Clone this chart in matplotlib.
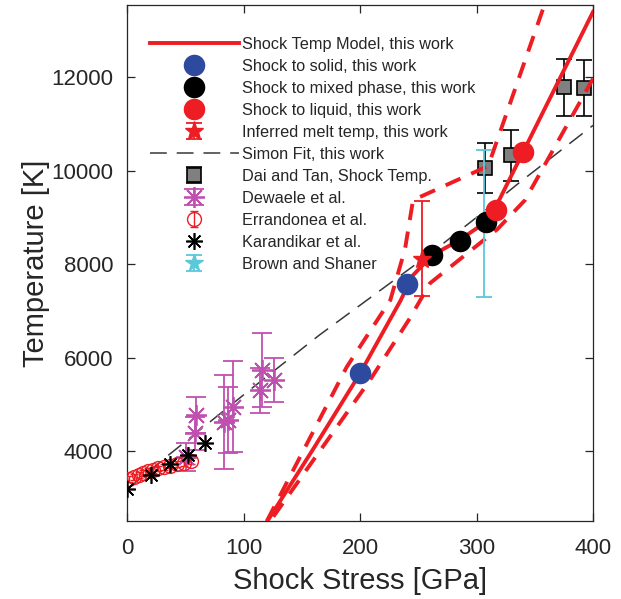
import matplotlib
matplotlib.use('Agg')
import matplotlib.pyplot as plt
from matplotlib.ticker import FixedLocator
from matplotlib.lines import Line2D

plt.rcParams['font.family'] = ['Liberation Sans', 'DejaVu Sans']

# ---------------- data ----------------
model_P = [121, 160, 200, 235, 245, 262, 285, 308, 316, 340, 400]
model_T = [2520, 4050, 5660, 7230, 7750, 8190, 8510, 8900, 9200, 10400, 13400]

upper_P = [120, 188.6, 226, 238.6, 245.5, 310, 359]
upper_T = [2500, 5800, 7230, 8320, 9370, 10100, 13600]

lower_P = [125.6, 208.6, 243, 260, 318, 341.6, 400]
lower_T = [2595, 5520, 6850, 7590, 8750, 9370, 11970]

solid_P = [200, 240]
solid_T = [5660, 7570]

mixed_P = [262, 286, 308]
mixed_T = [8190, 8490, 8900]

liquid_P = [317, 340]
liquid_T = [9150, 10400]

melt_P = [253]
melt_T = [8100]
melt_lo = [780]
melt_hi = [1250]

simon_P = [0, 35, 105, 165, 206, 260, 300, 337, 400]
simon_T = [3180, 3900, 5300, 6480, 7230, 8220, 9000, 9750, 10970]

dai_P = [307, 330, 375, 392]
dai_T = [10060, 10330, 11780, 11760]
dai_err = [530, 550, 600, 600]

dew_P = [51, 58, 59, 83, 87, 91, 114, 116, 126]
dew_T = [3880, 4380, 4770, 4620, 4660, 4950, 5300, 5730, 5520]
dew_err = [300, 350, 380, 1000, 700, 970, 480, 790, 480]

err_P = [2, 6, 10, 14, 18, 22, 27, 32, 37, 43, 49, 55]
err_T = [3400, 3450, 3490, 3530, 3570, 3600, 3630, 3660, 3690, 3720, 3750, 3790]
err_err = [60] * len(err_P)

kar_P = [0, 21, 37, 52, 67]
kar_T = [3180, 3490, 3720, 3910, 4180]

bs_P = [306]
bs_T = [8950]
bs_lo = [1650]
bs_hi = [1500]

x_ticks = [0, 100, 200, 300, 400]
y_ticks = [4000, 6000, 8000, 10000, 12000]

# ---------------- styles ----------------
RED = '#EE1D23'
BLUE = '#2E4A9E'
MAG = '#C050B0'
CYAN = '#5BC8DA'
ASTER = (8, 2, 0)
TXT = '#262626'

fig = plt.figure(figsize=(6.21, 5.99), dpi=100)
ax = fig.add_axes([0.2045, 0.130, 0.7505, 0.862])

h_model, = ax.plot(model_P, model_T, '-', color=RED, lw=2.8, zorder=4)
ax.plot(upper_P, upper_T, '--', color=RED, lw=2.8, dashes=(4.2, 3), zorder=4)
ax.plot(lower_P, lower_T, '--', color=RED, lw=2.8, dashes=(4.2, 3), zorder=4)

h_simon, = ax.plot(simon_P, simon_T, '--', color='#383838', lw=1.1, dashes=(11, 6.5),
                   zorder=3)

h_err = ax.errorbar(err_P, err_T, yerr=err_err, fmt='o', mfc='none', mec=RED,
                    ecolor=RED, ms=10, mew=1.0, elinewidth=1.0, capsize=3,
                    zorder=3)
h_kar, = ax.plot(kar_P, kar_T, ls='none', marker=ASTER, color='black', ms=12,
                 mew=1.2, zorder=5)
ax.errorbar(dew_P, dew_T, yerr=dew_err, fmt='none', ecolor=MAG,
            elinewidth=1.3, capsize=7, capthick=1.3, zorder=3)
ax.plot(dew_P, dew_T, ls='none', marker=ASTER, color=MAG, ms=15, mew=1.3, zorder=3)

h_dai = ax.errorbar(dai_P, dai_T, yerr=dai_err, fmt='s', mfc='#808080', mec='black',
                    ecolor='black', ms=10, mew=1.2, elinewidth=1.2, capsize=6,
                    capthick=1.2, zorder=3)
h_bs = ax.errorbar(bs_P, bs_T, yerr=[bs_lo, bs_hi], fmt='*', color=CYAN, mfc=CYAN,
                   mec=CYAN, ecolor=CYAN, ms=13, elinewidth=1.3, capsize=6,
                   capthick=1.3, zorder=6)

h_solid, = ax.plot(solid_P, solid_T, 'o', color=BLUE, ms=14.5, zorder=7)
h_mixed, = ax.plot(mixed_P, mixed_T, 'o', color='black', ms=14.5, zorder=7)
h_liq, = ax.plot(liquid_P, liquid_T, 'o', color=RED, ms=14.5, zorder=7)
h_melt = ax.errorbar(melt_P, melt_T, yerr=[melt_lo, melt_hi], fmt='*', color=RED,
                     ms=14, elinewidth=1.3, capsize=6, capthick=1.3, zorder=8)

# legend-only handle for Dewaele (marker + errorbar)
h_dew_full = ax.errorbar([-100], [-100], yerr=[100], fmt='none', ecolor=MAG,
                         elinewidth=1.3, capsize=7, capthick=1.3)
dew_marker = Line2D([], [], ls='none', marker=ASTER, color=MAG, ms=15, mew=1.3)

handles = [h_model, h_solid, h_mixed, h_liq, h_melt, h_simon, h_dai,
           (h_dew_full, dew_marker), h_err, h_kar, h_bs]
labels = ['Shock Temp Model, this work', 'Shock to solid, this work',
          'Shock to mixed phase, this work', 'Shock to liquid, this work',
          'Inferred melt temp, this work', 'Simon Fit, this work',
          'Dai and Tan, Shock Temp.', 'Dewaele et al.', 'Errandonea et al.',
          'Karandikar et al.', 'Brown and Shaner']
leg = ax.legend(handles, labels, loc='upper left', bbox_to_anchor=(0.035, 0.95),
                frameon=False, fontsize=11.7, handlelength=5.5, handletextpad=0.2,
                labelspacing=0.43, borderaxespad=0.0, numpoints=1)
for t in leg.get_texts():
    t.set_color(TXT)

ax.set_xlim(0, 400)
ax.set_ylim(2500, 13550)
ax.xaxis.set_major_locator(FixedLocator(x_ticks))
ax.yaxis.set_major_locator(FixedLocator(y_ticks))
ax.tick_params(direction='in', top=True, right=True, length=6, width=0.9,
               labelsize=16, colors=TXT)
ax.tick_params(axis='x', pad=12)
ax.tick_params(axis='y', pad=10)
for s in ax.spines.values():
    s.set_linewidth(0.9)
    s.set_color(TXT)

ax.set_xlabel('Shock Stress [GPa]', fontsize=21, color=TXT, labelpad=6)
ax.set_ylabel('Temperature [K]', fontsize=21, color=TXT, labelpad=1)

fig.savefig('out.png', dpi=100)
